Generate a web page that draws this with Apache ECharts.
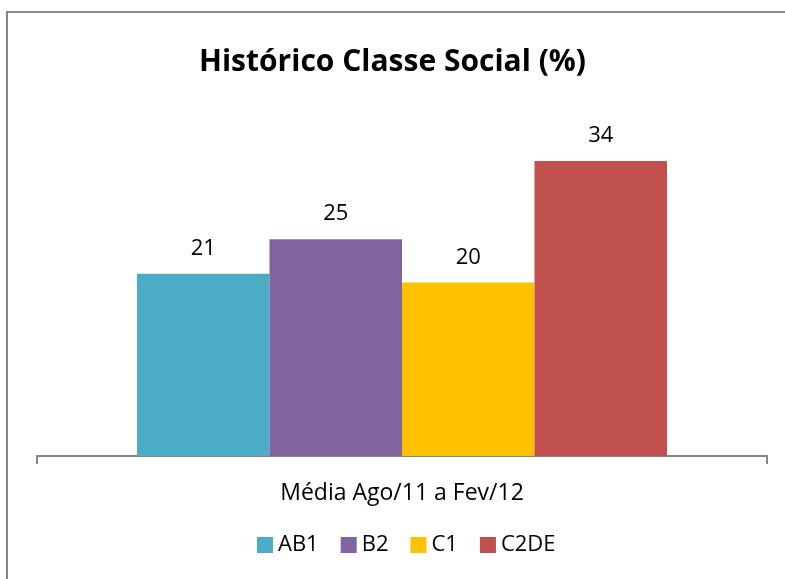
<!DOCTYPE html>
<html>
<head>
<meta charset="utf-8">
<script src="https://cdn.jsdelivr.net/npm/echarts@6/dist/echarts.min.js"></script>
<style>
  html, body { margin: 0; padding: 0; background: #fff; }
  #chart { width: 785px; height: 579px; }
</style>
</head>
<body>
<div id="chart"></div>
<script>
    // dados do gráfico
    const categories = ['Média Ago/11 a Fev/12'];
    const seriesNames = ['AB1', 'B2', 'C1', 'C2DE'];
    const seriesValues = [[21], [25], [20], [34]];
    const seriesColors = ['#4bacc6', '#8064a2', '#ffc000', '#c0504d'];

    const chart = echarts.init(document.getElementById('chart'));

    const series = seriesNames.map(function (name, i) {
        return {
            name: name,
            type: 'bar',
            data: seriesValues[i],
            barWidth: 132.5,
            barGap: '0%',
            itemStyle: { color: seriesColors[i] },
            label: {
                show: true,
                position: 'top',
                distance: 14,
                color: '#000',
                fontFamily: 'Open Sans',
                fontSize: 22
            }
        };
    });

    const option = {
        animation: false,
        title: {
            text: 'Histórico Classe Social (%)',
            left: 'center',
            top: 42,
            textStyle: {
                fontFamily: 'Open Sans',
                fontWeight: 'bold',
                fontSize: 30,
                color: '#000'
            }
        },
        legend: {
            data: seriesNames,
            bottom: 18,
            left: 252,
            itemWidth: 16,
            itemHeight: 16,
            itemGap: 22,
            icon: 'rect',
            textStyle: {
                fontFamily: 'Open Sans',
                fontSize: 22,
                color: '#000'
            }
        },
        grid: {
            left: 37,
            right: 18,
            top: 109,
            bottom: 123
        },
        xAxis: {
            type: 'category',
            data: categories,
            axisLine: { lineStyle: { color: '#868686', width: 2 } },
            axisTick: { show: true, length: 8, lineStyle: { color: '#868686', width: 2 } },
            axisLabel: {
                margin: 26,
                fontFamily: 'Open Sans',
                fontSize: 23,
                color: '#000'
            }
        },
        yAxis: {
            type: 'value',
            min: 0,
            max: 40,
            show: false
        },
        graphic: [{
            type: 'rect',
            shape: { x: 7, y: 12, width: 800, height: 600 },
            style: { fill: 'none', stroke: '#868686', lineWidth: 2 },
            silent: true
        }],
        series: series
    };

    chart.setOption(option);
</script>
</body>
</html>
